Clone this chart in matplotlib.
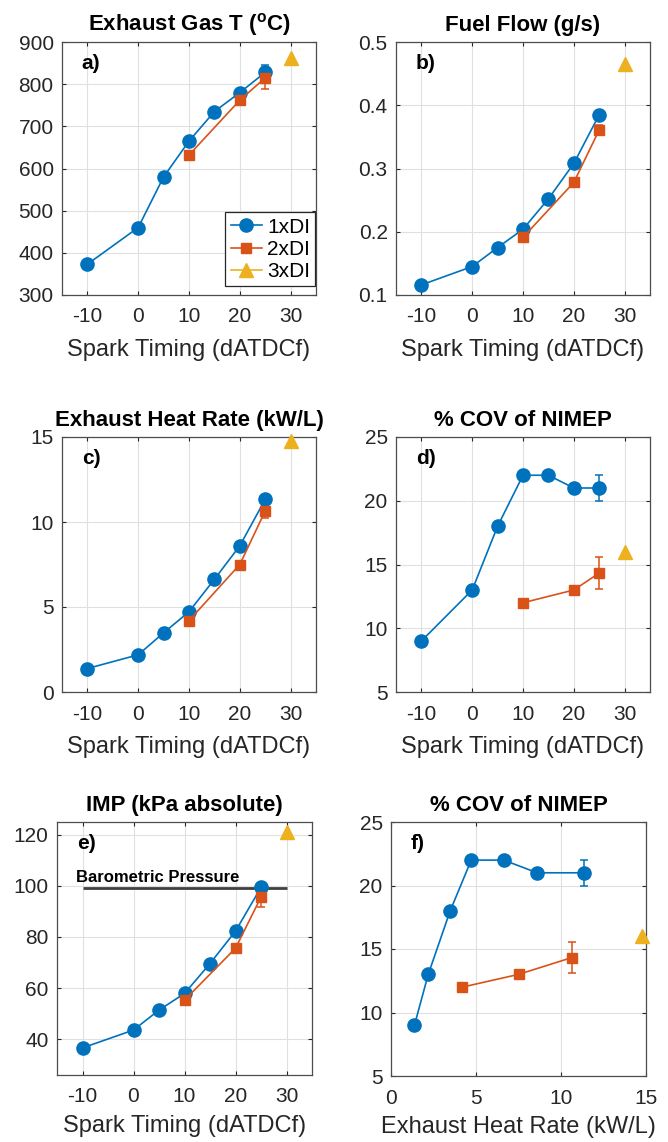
import matplotlib

matplotlib.use("Agg")
import matplotlib.pyplot as plt

plt.rcParams["font.family"] = ["Liberation Sans", "DejaVu Sans"]
plt.rcParams["mathtext.fontset"] = "custom"
plt.rcParams["mathtext.rm"] = "Liberation Sans"
plt.rcParams["mathtext.bf"] = "Liberation Sans:bold"
plt.rcParams["axes.unicode_minus"] = False

# MATLAB default colours
C1, C2, C3 = "#0072BD", "#D95319", "#EDB120"

# spark timing (dATDCf)
st1 = [-10, 0, 5, 10, 15, 20, 25]
st2 = [10, 20, 25]
st3 = [30]

# a) exhaust gas temperature (C)
egt1 = [373, 460, 580, 665, 735, 780, 828]
egt2 = [632, 762, 815]
egt3 = [862]
egt1_err = [0, 0, 0, 0, 0, 0, 17]
egt2_err = [0, 0, 26]

# b) fuel flow (g/s)
ff1 = [0.116, 0.145, 0.175, 0.204, 0.252, 0.308, 0.385]
ff2 = [0.191, 0.278, 0.361]
ff3 = [0.466]
ff1_err = [0, 0, 0, 0, 0, 0, 0.003]
ff2_err = [0, 0, 0.007]

# c) exhaust heat rate (kW/L)
ehr1 = [1.38, 2.19, 3.48, 4.72, 6.63, 8.6, 11.33]
ehr2 = [4.2, 7.5, 10.65]
ehr3 = [14.75]
ehr1_err = [0, 0, 0, 0, 0, 0, 0.15]
ehr2_err = [0, 0, 0.4]

# d) / f) % COV of NIMEP
cov1 = [9, 13, 18, 22, 22, 21, 21]
cov2 = [12, 13, 14.33]
cov3 = [16.0]
cov1_err = [0, 0, 0, 0, 0, 0, 1.0]
cov2_err = [0, 0, 1.25]

# e) intake manifold pressure (kPa abs)
imp1 = [36.6, 43.6, 51.4, 57.9, 69.6, 82.3, 99.4]
imp2 = [55.3, 75.6, 95.6]
imp3 = [121]
imp1_err = [0, 0, 0, 0, 0, 0, 1.0]
imp2_err = [0, 0, 4.0]
baro_kpa = 99.2
baro_span = (-10, 30)

ST_TICKS = [-10, 0, 10, 20, 30]
ST_LABEL = "Spark Timing (dATDCf)"

W, H = 668, 1142
fig = plt.figure(figsize=(W / 100, H / 100), dpi=100)


def make_ax(left, top, right, bottom):
    return fig.add_axes([left / W, 1 - bottom / H, (right - left) / W, (bottom - top) / H])


def draw_series(ax, xs, ys, errs):
    (x1, x2, x3), (y1, y2, y3), (e1, e2) = xs, ys, errs
    for x, y, e, c in ((x1, y1, e1, C1), (x2, y2, e2, C2)):
        idx = [i for i, v in enumerate(e) if v > 0]
        ax.errorbar([x[i] for i in idx], [y[i] for i in idx], yerr=[e[i] for i in idx],
                    fmt="none", ecolor=c, elinewidth=1.1, capsize=3, capthick=1.1, zorder=2)
    h1, = ax.plot(x1, y1, "-o", color=C1, lw=1.2, ms=9.5, zorder=3, label="1xDI")
    h2, = ax.plot(x2, y2, "-s", color=C2, lw=1.2, ms=7, zorder=3, label="2xDI")
    h3, = ax.plot(x3, y3, "-^", color=C3, lw=1.2, ms=9.5, zorder=3, label="3xDI")
    return h1, h2, h3


def style(ax, title, tag, xlim, ylim, xticks, yticks, xlabel):
    ax.set_xlim(*xlim)
    ax.set_ylim(*ylim)
    ax.set_xticks(xticks)
    ax.set_yticks(yticks)
    ax.grid(color="0.88", lw=0.8, zorder=0)
    ax.set_axisbelow(True)
    ax.tick_params(direction="in", length=3, top=True, right=True, labelsize=15,
                   colors="0.15")
    ax.tick_params(axis="x", pad=9)
    ax.tick_params(axis="y", pad=6)
    for sp in ax.spines.values():
        sp.set_color("0.3")
        sp.set_linewidth(0.9)
    ax.set_title(title, fontsize=16, fontweight="bold", pad=8)
    ax.set_xlabel(xlabel, fontsize=17, color="0.15", labelpad=9)
    ax.text(0.078, 0.915, tag, transform=ax.transAxes, fontsize=15,
            fontweight="bold", va="center", ha="left")


ax_a = make_ax(62, 42, 316, 295)
ax_b = make_ax(396, 42, 650, 295)
ax_c = make_ax(62, 437, 316, 692)
ax_d = make_ax(396, 437, 650, 692)
ax_e = make_ax(57, 822, 312, 1075)
ax_f = make_ax(391, 822, 646, 1076)

handles = draw_series(ax_a, (st1, st2, st3), (egt1, egt2, egt3), (egt1_err, egt2_err))
style(ax_a, r"Exhaust Gas T ($\mathbf{^{o}}$C)", "a)", (-15, 35), (300, 900),
      ST_TICKS, range(300, 901, 100), ST_LABEL)
leg = ax_a.legend(handles=handles, loc="lower right", bbox_to_anchor=(0.997, 0.035),
                  fontsize=15, fancybox=False, framealpha=1, edgecolor="0.15",
                  handlelength=1.5, handletextpad=0.25, borderpad=0.25,
                  labelspacing=0.15, borderaxespad=0)
leg.get_frame().set_linewidth(0.9)

draw_series(ax_b, (st1, st2, st3), (ff1, ff2, ff3), (ff1_err, ff2_err))
style(ax_b, "Fuel Flow (g/s)", "b)", (-15, 35), (0.1, 0.5),
      ST_TICKS, [0.1, 0.2, 0.3, 0.4, 0.5], ST_LABEL)

draw_series(ax_c, (st1, st2, st3), (ehr1, ehr2, ehr3), (ehr1_err, ehr2_err))
style(ax_c, "Exhaust Heat Rate (kW/L)", "c)", (-15, 35), (0, 15),
      ST_TICKS, [0, 5, 10, 15], ST_LABEL)

draw_series(ax_d, (st1, st2, st3), (cov1, cov2, cov3), (cov1_err, cov2_err))
style(ax_d, "% COV of NIMEP", "d)", (-15, 35), (5, 25),
      ST_TICKS, [5, 10, 15, 20, 25], ST_LABEL)

ax_e.hlines(baro_kpa, *baro_span, color="0.25", lw=2, zorder=2.5)
ax_e.text(baro_span[0] - 1.2, baro_kpa + 1.0, "Barometric Pressure", fontsize=12,
          fontweight="bold", va="bottom", ha="left")
draw_series(ax_e, (st1, st2, st3), (imp1, imp2, imp3), (imp1_err, imp2_err))
style(ax_e, "IMP (kPa absolute)", "e)", (-15, 35), (26, 125),
      ST_TICKS, [40, 60, 80, 100, 120], ST_LABEL)

draw_series(ax_f, (ehr1, ehr2, ehr3), (cov1, cov2, cov3), (cov1_err, cov2_err))
style(ax_f, "% COV of NIMEP", "f)", (0, 15), (5, 25),
      [0, 5, 10, 15], [5, 10, 15, 20, 25], "Exhaust Heat Rate (kW/L)")
for a in (ax_e, ax_f):
    a.xaxis.labelpad = 6
for a in (ax_a, ax_b, ax_c, ax_d, ax_e, ax_f):
    for artist in a.lines:
        artist.set_clip_on(False)

fig.savefig("out.png", dpi=100)
